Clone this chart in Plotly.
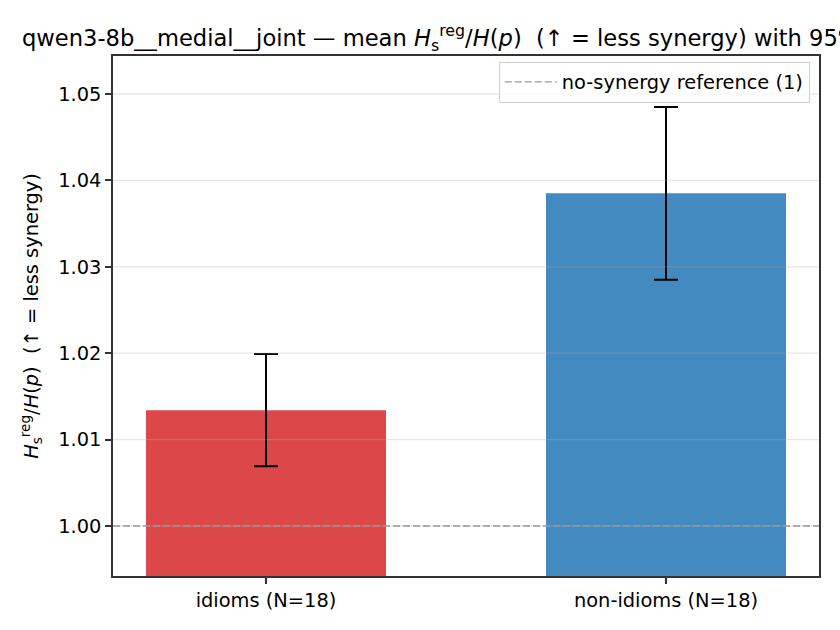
import plotly.graph_objects as go

# values
groups = ["idioms (N=18)", "non-idioms (N=18)"]
means = [1.0134, 1.0385]
ci_half = [0.0065, 0.0100]
bar_colors = ["#DC4849", "#428ABF"]
y_ticks = [1.00, 1.01, 1.02, 1.03, 1.04, 1.05]
reference = 1.0

FONT = "DejaVu Sans"
ratio = "<i>H</i><sub>s</sub><sup>reg</sup>/<i>H</i>(<i>p</i>)"

fig = go.Figure()
fig.add_trace(
    go.Bar(
        x=groups,
        y=means,
        width=0.6,
        marker=dict(color=bar_colors, line=dict(width=0)),
        error_y=dict(type="data", array=ci_half, color="black", thickness=2, width=12),
        showlegend=False,
    )
)

# grid drawn above the bars, like the reference
for t in y_ticks:
    fig.add_shape(
        type="line", xref="paper", x0=0, x1=1, yref="y", y0=t, y1=t,
        line=dict(color="rgba(176,176,176,0.3)", width=1.3), layer="above",
    )

fig.add_hline(
    y=reference,
    line=dict(color="#999999", width=1.3, dash="7px,3px"),
    showlegend=True,
    name="no-synergy reference (1)",
)

fig.update_layout(
    width=840,
    height=630,
    margin=dict(l=113, r=21, t=56, b=54),
    paper_bgcolor="white",
    plot_bgcolor="white",
    font=dict(family=FONT, size=19.4, color="black"),
    title=dict(
        text=f"qwen3-8b__medial__joint — mean {ratio}\u00a0\u00a0(↑ = less synergy) with 95% CI",
        font=dict(family=FONT, size=22.6, color="black"),
        x=22 / 840,
        xanchor="left",
        xref="container",
        y=1 - 38 / 630,
        yanchor="middle",
        yref="container",
    ),
    legend=dict(
        x=0.987,
        xanchor="right",
        y=0.989,
        yanchor="top",
        bgcolor="rgba(255,255,255,0.8)",
        bordercolor="#d0d0d0",
        borderwidth=1,
        itemwidth=52,
        font=dict(family=FONT, size=19.4, color="black"),
    ),
    xaxis=dict(
        range=[-0.3825, 1.3825],
        showgrid=False,
        showline=True,
        linecolor="#333333",
        linewidth=1.5,
        mirror=True,
        ticks="outside",
        ticklen=6,
        tickwidth=1.5,
        tickcolor="#333333",
        tickfont=dict(size=19.4),
        zeroline=False,
    ),
    yaxis=dict(
        range=[0.99421, 1.05440],
        tickvals=y_ticks,
        tickformat=".2f",
        showgrid=False,
        showline=True,
        linecolor="#333333",
        linewidth=1.5,
        mirror=True,
        ticks="outside",
        ticklen=6,
        tickwidth=1.5,
        tickcolor="#333333",
        tickfont=dict(size=19.4),
        zeroline=False,
        title=dict(
            text=f"{ratio}\u00a0\u00a0(↑ = less synergy)",
            font=dict(size=19.4),
            standoff=14,
        ),
        automargin=False,
    ),
)

fig.write_html(
    "out.html",
    config={"displayModeBar": False},
    post_script="document.body.style.margin='0';",
)
